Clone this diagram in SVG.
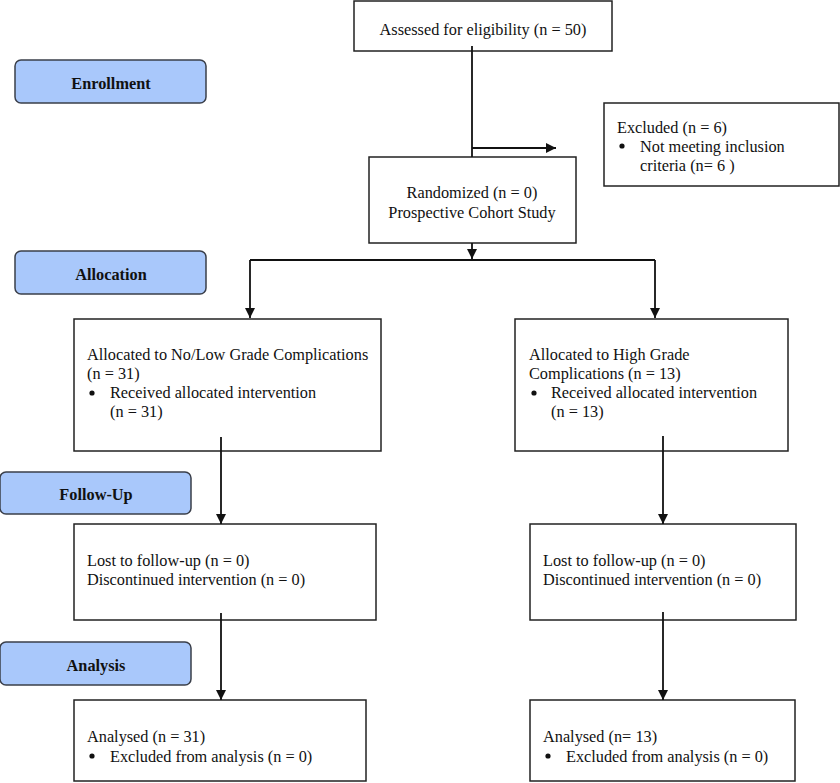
<svg xmlns="http://www.w3.org/2000/svg" width="840" height="783" viewBox="0 0 840 783">
<style>
.box{fill:#ffffff;stroke:#222;stroke-width:1.5}
.stage{fill:#a9c8fb;stroke:#3a3f4a;stroke-width:1.5}
.t{font-family:"Liberation Serif","Times New Roman",serif;font-size:16.3px;fill:#111}
.b{font-family:"Liberation Serif","Times New Roman",serif;font-size:16.3px;font-weight:bold;fill:#111;text-anchor:middle}
.c{text-anchor:middle}
.ln{fill:none;stroke:#111;stroke-width:1.8}
</style>
<defs>
<marker id="ah" viewBox="0 0 10 10" refX="10" refY="5" markerWidth="10" markerHeight="10" markerUnits="userSpaceOnUse" orient="auto">
<path d="M0,0 L10,5 L0,10 Z" fill="#111"/>
</marker>
</defs>
<rect width="840" height="783" fill="#ffffff"/>

<g id="stage-enrollment"><rect class="stage" x="15" y="60" width="191" height="43" rx="6"/><text class="b" x="111" y="88.5">Enrollment</text></g>
<g id="stage-allocation"><rect class="stage" x="15" y="251" width="191" height="43" rx="6"/><text class="b" x="111" y="279.5">Allocation</text></g>
<g id="stage-followup"><rect class="stage" x="0" y="472" width="191" height="42" rx="6"/><text class="b" x="96" y="499.5">Follow-Up</text></g>
<g id="stage-analysis"><rect class="stage" x="0" y="642" width="191" height="43" rx="6"/><text class="b" x="96" y="670.5">Analysis</text></g>

<g id="assessed"><rect class="box" x="354" y="1" width="258" height="50"/><text class="t c" x="483" y="34.5">Assessed for eligibility (n = 50)</text></g>
<g id="excluded"><rect class="box" x="604" y="103" width="235" height="83"/>
<text class="t" x="617" y="132.5">Excluded (n = 6)</text>
<circle cx="622" cy="146" r="2.6" fill="#111"/>
<text class="t" x="640" y="151.5">Not meeting inclusion</text>
<text class="t" x="640" y="170.5">criteria (n= 6 )</text></g>
<g id="randomized"><rect class="box" x="369" y="157" width="207" height="86"/>
<text class="t c" x="472" y="197.5">Randomized (n = 0)</text>
<text class="t c" x="472" y="217.5">Prospective Cohort Study</text></g>

<g id="alloc-left"><rect class="box" x="74" y="319" width="307" height="132"/>
<text class="t" x="87" y="359.5">Allocated to No/Low Grade Complications</text>
<text class="t" x="87" y="378.5">(n = 31)</text>
<circle cx="92" cy="393" r="2.6" fill="#111"/>
<text class="t" x="110" y="397.5">Received allocated intervention</text>
<text class="t" x="110" y="416.5">(n = 31)</text></g>
<g id="alloc-right"><rect class="box" x="515" y="319" width="273" height="132"/>
<text class="t" x="529" y="359.5">Allocated to High Grade</text>
<text class="t" x="529" y="378.5">Complications (n = 13)</text>
<circle cx="534" cy="393" r="2.6" fill="#111"/>
<text class="t" x="551" y="397.5">Received allocated intervention</text>
<text class="t" x="551" y="416.5">(n = 13)</text></g>

<g id="follow-left"><rect class="box" x="74" y="524" width="302" height="96"/>
<text class="t" x="87" y="565.5">Lost to follow-up (n = 0)</text>
<text class="t" x="87" y="584.5">Discontinued intervention (n = 0)</text></g>
<g id="follow-right"><rect class="box" x="530" y="524" width="266" height="96"/>
<text class="t" x="543" y="565.5">Lost to follow-up (n = 0)</text>
<text class="t" x="543" y="584.5">Discontinued intervention (n = 0)</text></g>

<g id="analysis-left"><rect class="box" x="74" y="700" width="292" height="81"/>
<text class="t" x="87" y="741.5">Analysed (n = 31)</text>
<circle cx="92" cy="756" r="2.6" fill="#111"/>
<text class="t" x="110" y="761.5">Excluded from analysis (n = 0)</text></g>
<g id="analysis-right"><rect class="box" x="530" y="700" width="265" height="81"/>
<text class="t" x="543" y="741.5">Analysed (n= 13)</text>
<circle cx="548" cy="756" r="2.6" fill="#111"/>
<text class="t" x="566" y="761.5">Excluded from analysis (n = 0)</text></g>

<g id="connectors">
<path class="ln" d="M472,46 V157"/>
<path class="ln" d="M472,148 H556" marker-end="url(#ah)"/>
<path class="ln" d="M472,243 V259" marker-end="url(#ah)"/>
<path class="ln" d="M250,260 H655"/>
<path class="ln" d="M250,260 V318" marker-end="url(#ah)"/>
<path class="ln" d="M655,260 V318" marker-end="url(#ah)"/>
<path class="ln" d="M221,437 V524" marker-end="url(#ah)"/>
<path class="ln" d="M663,436 V524" marker-end="url(#ah)"/>
<path class="ln" d="M221,613 V700" marker-end="url(#ah)"/>
<path class="ln" d="M663,612 V700" marker-end="url(#ah)"/>
</g>
</svg>
